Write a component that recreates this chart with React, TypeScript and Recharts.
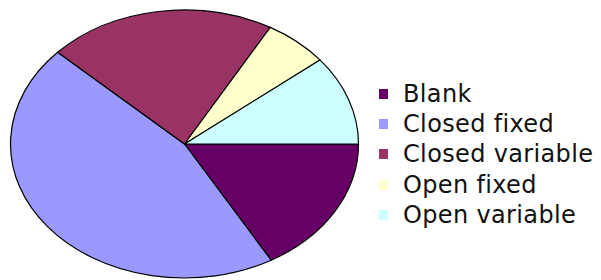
import React from 'react';
import { PieChart, Pie, Cell, Legend } from 'recharts';

const categories = ['Blank', 'Closed fixed', 'Closed variable', 'Open fixed', 'Open variable'];
const values = [16.7, 45.3, 21.2, 6.0, 10.8];
const colors = ['#660066', '#9999FF', '#993366', '#FFFFCC', '#CCFFFF'];

const data = categories.map((name, i) => ({ name, value: values[i] }));

const CX = 184.5;
const CY = 144;
const RY = 134;
const RX = 174;
const KX = RX / RY;

const EllipseSector = (props: any) => {
  const { cx, cy, startAngle, endAngle, outerRadius, fill } = props;
  const ry = outerRadius;
  const rx = outerRadius * KX;
  const rad = Math.PI / 180;
  const p = (a: number) => [cx + rx * Math.cos(a * rad), cy - ry * Math.sin(a * rad)];
  const [x1, y1] = p(startAngle);
  const [x2, y2] = p(endAngle);
  const delta = endAngle - startAngle;
  const large = Math.abs(delta) > 180 ? 1 : 0;
  const sweep = delta < 0 ? 1 : 0;
  const d = `M${cx},${cy} L${x1},${y1} A${rx},${ry} 0 ${large} ${sweep} ${x2},${y2} Z`;
  return <path d={d} fill={fill} stroke="#000" strokeWidth={1.2} strokeLinejoin="round" />;
};

const LegendContent = (props: any) => {
  return (
    <div style={{ position: 'relative', width: 222, height: 160 }}>
      {categories.map((name, i) => (
        <div key={name} style={{ position: 'absolute', left: 0, top: i * 30.4, height: 30.4, width: 222 }}>
          <div style={{ position: 'absolute', left: 0, top: 10.2, width: 9, height: 10, background: colors[i] }} />
          <div
            style={{
              position: 'absolute',
              left: 24,
              top: 0,
              lineHeight: '30.4px',
              fontSize: 24,
              fontFamily: 'DejaVu Sans',
              letterSpacing: '0.35px',
              color: '#111',
              whiteSpace: 'nowrap',
            }}
          >
            {name}
          </div>
        </div>
      ))}
    </div>
  );
};

export default function App() {
  return (
    <div style={{ position: 'absolute', left: 0, top: 0, width: 601, height: 280, background: '#fff' }}>
      <PieChart width={601} height={280} margin={{ top: 0, right: 0, bottom: 0, left: 0 }}>
        <Pie
          data={data}
          dataKey="value"
          nameKey="name"
          cx={CX}
          cy={CY}
          outerRadius={RY}
          startAngle={0}
          endAngle={-360}
          isAnimationActive={false}
          stroke="#000"
          strokeWidth={1}
          labelLine={false}
          shape={EllipseSector}
          activeShape={EllipseSector}
          inactiveShape={EllipseSector}
        >
          {data.map((d, i) => (
            <Cell key={d.name} fill={colors[i]} />
          ))}
        </Pie>
        <Legend
          content={LegendContent}
          wrapperStyle={{ position: 'absolute', left: 379, top: 78.5, width: 222, height: 160 }}
        />
      </PieChart>
    </div>
  );
}
